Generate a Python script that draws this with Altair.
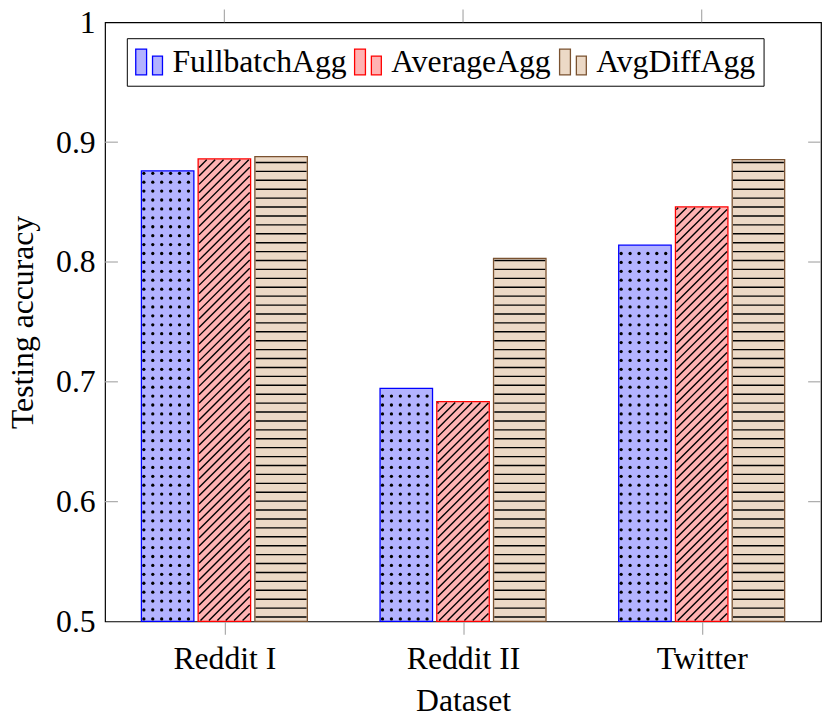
import altair as alt
import pandas as pd

# ---------------- data ----------------
datasets = ["Reddit I", "Reddit II", "Twitter"]
series = ["FullbatchAgg", "AverageAgg", "AvgDiffAgg"]
fullbatch = [0.876, 0.6945, 0.814]
average = [0.886, 0.6835, 0.846]
avgdiff = [0.888, 0.803, 0.8855]
y_ticks = [0.5, 0.6, 0.7, 0.8, 0.9, 1.0]

fills = ["#b3b3ff", "#ffb3b3", "#ecd9c6"]
strokes = ["#0000ff", "#ff0000", "#7a5230"]
patterns = ["dots", "northeast", "horizontal"]

# ---------------- layout ----------------
W, H = 723, 605
Y0, Y1 = 0.5, 1.0
PX_X = W / len(datasets)          # pixels per x unit
PX_Y = H / (Y1 - Y0)              # pixels per y unit
BAR_STEP_PX = 57.3
BAR_HALF_PX = 26.5
FONT = "Liberation Serif"
FS = 32

values = [fullbatch, average, avgdiff]

bar_rows = []
dot_rows = []
seg_rows = []
for si, s in enumerate(series):
    for gi, d in enumerate(datasets):
        v = values[si][gi]
        cpx = (gi + 0.5) * PX_X + (si - 1) * BAR_STEP_PX
        L, R = cpx - BAR_HALF_PX, cpx + BAR_HALF_PX
        top = (v - Y0) * PX_Y
        bar_rows.append(dict(dataset=d, series=s, value=v, base=Y0,
                             x=L / PX_X, x2=R / PX_X))
        pat = patterns[si]
        if pat == "dots":
            cx = L + 2.5
            while cx <= R - 2.5:
                cy = 2.6
                while cy <= top - 2:
                    dot_rows.append(dict(px=cx / PX_X, py=Y0 + cy / PX_Y))
                    cy += 9.0
                cx += 9.0
        elif pat == "horizontal":
            cy = 4.5
            while cy <= top - 2:
                seg_rows.append(dict(ax=(L + 0.8) / PX_X, bx=(R - 0.8) / PX_X,
                                     ay=Y0 + cy / PX_Y, by=Y0 + cy / PX_Y))
                cy += 9.0
        else:
            m = 0.9
            sp = 8.5
            k = -int((top + 20) / sp) - 2
            while True:
                c = L + 1.5 + sp * k
                k += 1
                if c > R:
                    break
                y1 = max(m, (L + m) - c)
                y2 = min(top - m, (R - m) - c)
                if y2 - y1 > 0.6:
                    seg_rows.append(dict(ax=(c + y1) / PX_X, bx=(c + y2) / PX_X,
                                         ay=Y0 + y1 / PX_Y, by=Y0 + y2 / PX_Y))

bars = pd.DataFrame(bar_rows)
dots = pd.DataFrame(dot_rows)
segs = pd.DataFrame(seg_rows)
centers = pd.DataFrame({"c": [i + 0.5 for i in range(len(datasets))]})
inner_ticks = pd.DataFrame({"t": y_ticks[1:-1]})

xscale = alt.Scale(domain=[0, len(datasets)], nice=False, zero=False)
yscale = alt.Scale(domain=[Y0, Y1], nice=False, zero=False)

label_expr = " : ".join(
    f"datum.value < {i + 1} ? '{d}'" for i, d in enumerate(datasets[:-1])
) + f" : '{datasets[-1]}'"

tick_color = "#aaaaaa"

xaxis = alt.Axis(
    values=[i + 0.5 for i in range(len(datasets))], labelExpr=label_expr,
    title="Dataset", grid=False, domain=False, ticks=True, tickSize=13,
    tickColor=tick_color, tickWidth=1.2, labelPadding=9, labelFlush=False,
    labelFont=FONT, labelFontSize=FS, labelColor="black",
    titleFont=FONT, titleFontSize=FS, titleFontWeight="normal",
    titlePadding=12, titleColor="black")
yaxis = alt.Axis(
    values=y_ticks, format="~g", title="Testing accuracy", grid=False,
    domain=False, ticks=False, labelPadding=10, labelFlush=False,
    labelFont=FONT, labelFontSize=FS, labelColor="black",
    titleFont=FONT, titleFontSize=FS, titleFontWeight="normal",
    titlePadding=16, titleColor="black")

legend_path = "M-1,-0.87H-0.27V0.87H-1Z M0.13,-0.4H0.8V0.87H0.13Z"
legend = alt.Legend(
    orient="none", legendX=22, legendY=16, direction="horizontal", title=None,
    symbolType=legend_path, symbolSize=900, symbolStrokeWidth=1.3,
    labelFont=FONT, labelFontSize=FS, labelOffset=6, columnPadding=5,
    labelLimit=0, strokeColor="black", fillColor="white", padding=8,
)

bar_layer = alt.Chart(bars).mark_rect(strokeWidth=1.3).encode(
    x=alt.X("x:Q", scale=xscale, axis=xaxis),
    x2="x2:Q",
    y=alt.Y("value:Q", scale=yscale, axis=yaxis),
    y2="base:Q",
    fill=alt.Fill("series:N", scale=alt.Scale(domain=series, range=fills),
                  sort=series, legend=legend),
    stroke=alt.Stroke("series:N", scale=alt.Scale(domain=series, range=strokes),
                      sort=series, legend=legend),
)

dot_layer = alt.Chart(dots).mark_circle(color="black", size=11, opacity=1).encode(
    x=alt.X("px:Q", scale=xscale, axis=xaxis),
    y=alt.Y("py:Q", scale=yscale, axis=yaxis),
)

seg_layer = alt.Chart(segs).mark_rule(color="black", strokeWidth=1.4).encode(
    x=alt.X("ax:Q", scale=xscale, axis=xaxis),
    x2="bx:Q",
    y=alt.Y("ay:Q", scale=yscale, axis=yaxis),
    y2="by:Q",
)

left_ticks = alt.Chart(inner_ticks).mark_rule(color=tick_color, strokeWidth=1.2).encode(
    y=alt.Y("t:Q", scale=yscale, axis=yaxis),
    x=alt.value(0), x2=alt.value(13),
)
right_ticks = alt.Chart(inner_ticks).mark_rule(color=tick_color, strokeWidth=1.2).encode(
    y=alt.Y("t:Q", scale=yscale, axis=yaxis),
    x=alt.value(W - 13), x2=alt.value(W),
)
top_ticks = alt.Chart(centers).mark_rule(color=tick_color, strokeWidth=1.2).encode(
    x=alt.X("c:Q", scale=xscale, axis=xaxis),
    y=alt.value(-13), y2=alt.value(0),
)

chart = alt.layer(
    bar_layer, dot_layer, seg_layer, left_ticks, right_ticks, top_ticks
).properties(
    width=W, height=H,
    autosize=alt.AutoSizeParams(type="none"),
    padding={"left": 98, "top": 11, "right": 1, "bottom": 96},
).configure(font=FONT).configure_view(
    stroke="black", strokeWidth=1.2
)

chart.save("out.html", embed_options={"renderer": "svg", "actions": False})
